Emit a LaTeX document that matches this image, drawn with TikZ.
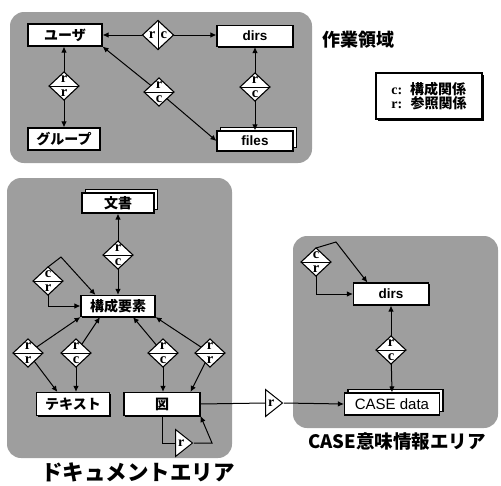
\documentclass[tikz,border=0pt]{standalone}
\usepackage{fontspec}
\newfontfamily\jp{Noto Sans CJK JP}
\newfontfamily\lsans{Liberation Sans}
\newfontfamily\lserif{Liberation Serif}
\usetikzlibrary{shapes.geometric,shadows,arrows.meta,calc}
\tikzset{
  area/.style={fill=black!38, draw=none, rounded corners=14pt},
  box/.style={draw, line width=1.1pt, fill=white, inner sep=0pt, minimum height=21pt, minimum width=75pt},
  ent/.style={box, general shadow={shadow xshift=1.3pt, shadow yshift=-1.3pt, fill=black}},
  stk/.style={box, copy shadow={shadow xshift=3.5pt, shadow yshift=3.5pt}},
  jpt/.style={font=\jp\bfseries\fontsize{14pt}{14pt}\selectfont},
  lat/.style={font=\lsans\bfseries\fontsize{13.5pt}{13.5pt}\selectfont},
  dia/.style={diamond, draw, line width=1.1pt, fill=white, aspect=1.07, inner xsep=0pt, inner ysep=14pt, outer sep=0pt},
  let/.style={font=\lserif\bfseries\fontsize{14.5pt}{14.5pt}\selectfont, inner sep=0pt},
  tri/.style={isosceles triangle, isosceles triangle stretches, draw, line width=1pt, fill=white, inner sep=0pt, minimum width=27pt, minimum height=17pt, font=\lserif\bfseries\fontsize{14pt}{14pt}\selectfont},
  rel/.style={line width=1pt},
  title/.style={font=\jp\bfseries\fontsize{18pt}{18pt}\selectfont, inner sep=0pt},
  >={Latex[length=6pt,width=5.5pt]}
}
\newcommand\hrel[4]{%
  \node[dia] (#1) at (#2) {};
  \draw[line width=0.8pt] (#1.west) -- (#1.east);
  \node[let, yshift=6.8pt] (#1t) at (#1.center) {#3};
  \node[let, yshift=-6.8pt] (#1b) at (#1.center) {#4};}
\newcommand\vrel[4]{%
  \node[dia, inner ysep=14.5pt] (#1) at (#2) {};
  \draw[line width=0.8pt] (#1.north) -- (#1.south);
  \node[let, xshift=-5.8pt] (#1t) at (#1.center) {#3};
  \node[let, xshift=5.8pt] (#1b) at (#1.center) {#4};}
\begin{document}
\begin{tikzpicture}[x=1pt,y=-1pt]
\useasboundingbox (0,0) rectangle (501,485);
% areas
\fill[area] (10,12) rectangle (312,163);
\fill[area] (7,178) rectangle (232,458);
\fill[area] (293,236) rectangle (498,428);

% ---- work area ----
\node[ent, jpt, minimum width=74pt, minimum height=22pt] (U) at (65,35) {ユーザ};
\node[ent, lat, minimum width=76pt] (Dt) at (255,36) {dirs};
\node[ent, jpt, minimum width=72pt, minimum height=22pt] (G) at (64,139) {グループ};
\node[stk, lat, minimum width=76pt, minimum height=20pt] (F) at (255,141) {files};
\vrel{d1}{158,35}{r}{c}
\hrel{d2}{64,86}{r}{r}
\hrel{d3}{159,92}{r}{c}
\hrel{d4}{255,87}{r}{c}
\draw[rel,<-] (U.east) -- (d1);
\draw[rel,->] (d1) -- (Dt.west |- d1);
\draw[rel,<-] (U.south -| d2) -- (d2);
\draw[rel,->] (d2) -- (G.north -| d2);
\draw[rel,<-] (U.south east) -- (d3);
\draw[rel,->] (d3) -- (F.west);
\draw[rel,<-] (Dt.south) -- (d4);
\draw[rel,->] (d4) -- (F.north);

\node[title] (wa) at (358,40) {作業領域};
\node[draw, line width=1.1pt, fill=white, general shadow={shadow xshift=1.5pt, shadow yshift=-1.5pt, fill=black}, minimum width=106pt, minimum height=46pt, align=left, inner sep=0pt, font=\fontsize{14pt}{14pt}\selectfont] (lg) at (429,96)
  {{\lserif\bfseries c:}\hspace{8pt}{\jp\bfseries 構成関係}\\{\lserif\bfseries r:}\hspace{8.5pt}{\jp\bfseries 参照関係}};

% ---- document area ----
\node[stk, jpt, minimum width=72pt, minimum height=20pt] (Doc) at (118,203) {文書};
\hrel{e1}{118,255}{r}{c}
\node[ent, jpt, minimum width=74pt] (K) at (118,306) {構成要素};
\draw[rel,<-] (Doc.south) -- (e1);
\draw[rel,->] (e1) -- (K.north);
\hrel{e0}{48,281}{c}{r}
\coordinate (k1) at (61,257);
\draw[rel,->] (e0.north) -- (k1) -- ($(K.north west)!0.2!(K.north east)$);
\draw[rel,->] (e0.south) |- (K.west);

\node[ent, jpt, minimum width=73pt, minimum height=23pt] (T) at (73,404) {テキスト};
\node[ent, jpt, minimum width=76pt, minimum height=23pt] (Z) at (162,404) {図};
\hrel{e2}{28,353}{r}{r}
\hrel{e3}{76,353}{r}{c}
\hrel{e4}{163,353}{r}{c}
\hrel{e5}{210,353}{r}{r}
\draw[rel,<-] (K.south west) -- (e2);
\draw[rel,->] (e2) -- ($(T.north west)!0.29!(T.north east)$);
\draw[rel,<-] ($(K.south west)!0.26!(K.south east)$) -- (e3);
\draw[rel,->] (e3.south) -- (e3.south |- T.north);
\draw[rel,<-] ($(K.south west)!0.7!(K.south east)$) -- (e4);
\draw[rel,->] (e4.south) -- (e4.south |- Z.north);
\draw[rel,<-] (K.south east) -- (e5);
\draw[rel,->] (e5) -- ($(Z.north west)!0.87!(Z.north east)$);

\node[tri, anchor=west] (t1) at (175,443) {r\hspace{4pt}};
\coordinate (zl) at (212,443);
\draw[rel] (Z.south) |- (t1.west);
\draw[rel,->] (t1.apex) -- (zl) -- (Z.south east);

\node[title, font=\jp\bfseries\fontsize{21.5pt}{21.5pt}\selectfont] (da) at (138,472) {ドキュメントエリア};

% ---- CASE area ----
\node[ent, lat, minimum width=75pt, minimum height=22pt] (R) at (391,294) {dirs};
\hrel{f0}{316,262}{c}{r}
\coordinate (r1) at (336,242);
\draw[rel,->] (f0.north) -- (r1) -- ($(R.north west)!0.19!(R.north east)$);
\draw[rel,->] (f0.south) |- (R.west);
\hrel{f1}{391,350}{r}{c}
\node[stk, font=\lsans\fontsize{15pt}{15pt}\selectfont, minimum width=95pt, minimum height=22pt] (C) at (392,404) {CASE data};
\draw[rel,<-] (R.south) -- (f1);
\draw[rel,->] (f1) -- (C.north);

\node[tri, anchor=west] (t2) at (265,403) {r\hspace{4pt}};
\draw[rel] (Z.east) -- (t2.west);
\draw[rel,->] (t2.apex) -- (C.west);

\node[title, font=\jp\bfseries\fontsize{18.5pt}{18.5pt}\selectfont] (ca) at (397,441) {CASE意味情報エリア};
\end{tikzpicture}
\end{document}
